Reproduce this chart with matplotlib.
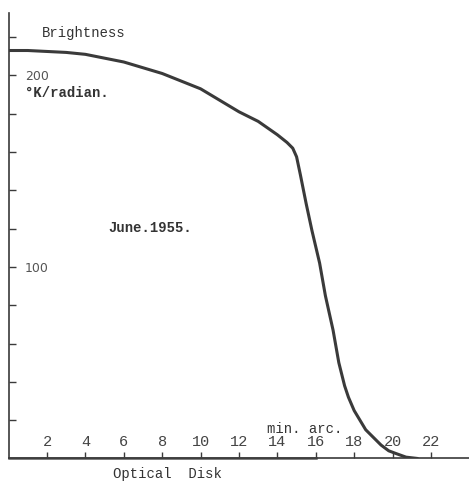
import matplotlib
matplotlib.use("Agg")
from matplotlib import pyplot as plt

# Brightness profile (min. arc. vs degK/radian)
radius = [0, 1, 2, 3, 4, 5, 6, 7, 8, 9, 10, 11, 12, 13, 14, 14.5, 14.8,
          15.0, 15.2, 15.5, 15.8, 16.2, 16.5, 16.9, 17.2, 17.5, 17.7, 18.0,
          18.3, 18.6, 19.0, 19.4, 19.8, 20.2, 20.7, 21.3]
brightness = [213, 213, 212.5, 212, 211, 209, 207, 204, 201, 197, 193, 187,
              181, 176, 169, 165, 162, 157.5, 148, 133, 119, 102, 85, 67,
              50, 38, 32, 25, 20, 15, 11, 7, 4, 2.5, 0.7, 0]

x_ticks = [2, 4, 6, 8, 10, 12, 14, 16, 18, 20, 22]
y_ticks = [20, 40, 60, 80, 100, 120, 140, 160, 180, 200, 220]
y_labels = ['', '', '', '', '100', '', '', '', '', '200', '']
optical_disk_edge = 16

ink = '#3a3a3a'
mono = 'Liberation Mono'

fig = plt.figure(figsize=(4.69, 4.82), dpi=100)
ax = fig.add_axes([0.0183, 0.0488, 0.9817, 0.9243])

ax.plot(radius, brightness, color=ink, linewidth=2.2, solid_capstyle='round',
        solid_joinstyle='round')
# slightly thicker axis stretch marking the optical disk
ax.plot([0, optical_disk_edge], [0, 0], color='#555555', linewidth=1.8,
        clip_on=False)

ax.set_xlim(0, 23.98)
ax.set_ylim(0, 232.6)

for side in ('top', 'right'):
    ax.spines[side].set_visible(False)
for side in ('left', 'bottom'):
    ax.spines[side].set_color(ink)
    ax.spines[side].set_linewidth(1.2)

ax.set_xticks(x_ticks)
ax.set_xticklabels([str(t) for t in x_ticks], fontfamily=mono, fontsize=11,
                   color='#444444')
ax.set_yticks(y_ticks)
ax.set_yticklabels(y_labels, fontfamily='DejaVu Sans', fontsize=9,
                   color='#555555')
ax.tick_params(axis='x', direction='in', length=4, width=1, color=ink, pad=-17)
ax.tick_params(axis='y', direction='in', length=5, width=1, color=ink, pad=-11.8)
for lbl in ax.get_yticklabels():
    lbl.set_ha('left')

ax.text(1.74, 222, 'Brightness', fontfamily=mono, fontsize=10,
        color='#333333', va='center')
ax.text(0.85, 191, '°K/radian.', fontfamily=mono, fontsize=10,
        fontweight='bold', color='#333333', va='center')
ax.text(5.18, 120.4, 'June.1955.', fontfamily=mono, fontsize=10,
        fontweight='bold', color='#333333', va='center')
ax.text(13.46, 15.4, 'min. arc.', fontfamily=mono, fontsize=10,
        color='#333333', va='center')
ax.text(5.44, -8.1, 'Optical  Disk', fontfamily=mono, fontsize=10,
        color='#333333', va='center', clip_on=False)

fig.savefig('out.png', dpi=100, facecolor='white')
